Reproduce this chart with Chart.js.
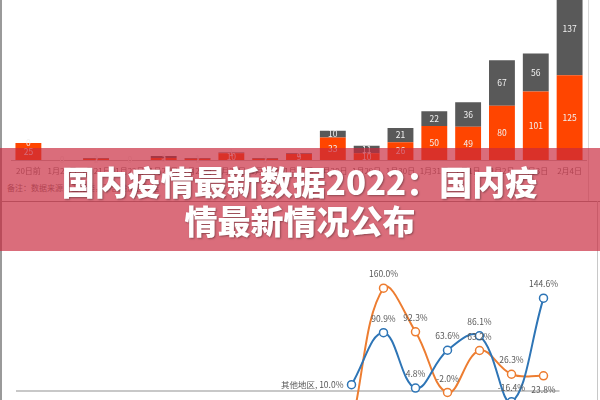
<!DOCTYPE html>
<html lang="zh">
<head>
<meta charset="UTF-8">
<title>国内疫情最新数据2022</title>
<script src="https://cdn.jsdelivr.net/npm/chart.js"></script>
<style>
    html, body {
        margin: 0;
        padding: 0;
        width: 600px;
        height: 400px;
        overflow: hidden;
        background: #fff;
        font-family: "Noto Sans CJK SC", sans-serif;
    }
    .box { position: absolute; }
    #barBox { left: 10px; top: -30px; width: 578px; height: 210px; }
    #lineBox { left: 10px; top: 257px; width: 555px; height: 204px; }
    .note {
        position: absolute;
        left: 7px;
        top: 182px;
        font-size: 8px;
        color: #7f7f7f;
        white-space: nowrap;
    }
    .rule { position: absolute; }
    .banner {
        position: absolute;
        left: 0;
        top: 148px;
        width: 600px;
        height: 103px;
        background: rgba(200, 40, 60, 0.68);
        z-index: 10;
    }
    .banner h1 {
        margin: 0;
        padding-top: 14px;
        text-align: center;
        color: #fff;
        font-size: 33px;
        line-height: 39px;
        font-weight: 900;
        text-shadow: 1px 1px 2px rgba(0, 0, 0, 0.35);
    }
</style>
</head>
<body>
    <div class="rule" style="left:0;top:0;width:2px;height:400px;background:#9a9a9a;"></div>
    <div class="rule" style="left:588px;top:0;width:1px;height:201px;background:#d9d9d9;"></div>
    <div class="rule" style="left:0;top:201px;width:600px;height:1px;background:#999;"></div>
    <div class="rule" style="left:597px;top:201px;width:1px;height:199px;background:#c8c8c8;"></div>

    <div class="box" id="barBox"><canvas id="barChart"></canvas></div>
    <div class="note">备注：数据来源：卫健委，不含港澳台数据</div>
    <div class="box" id="lineBox"><canvas id="lineChart"></canvas></div>

    <div class="banner">
        <h1>国内疫情最新数据2022：国内疫<br>情最新情况公布</h1>
    </div>

<script>
    // categories shared by both charts
    const days = ['20日前', '1月20日', '1月21日', '1月22日', '1月23日', '1月24日', '1月25日', '1月26日',
        '1月27日', '1月28日', '1月29日', '1月30日', '1月31日', '2月1日', '2月2日', '2月3日', '2月4日'];

    // stacked bars (top)
    const hubeiNew = [25, 0, 2, 0, 3, 2, 10, 2, 9, 33, 10, 26, 50, 49, 80, 101, 125];
    const otherNew = [0, 0, 1, 0, 3, 1, 1, 1, 1, 10, 11, 21, 22, 36, 67, 56, 137];

    // growth rates (bottom), %
    const otherRate = [null, null, null, null, null, null, null, null, null, null, 10.0, 90.9, 4.8, 63.6, 86.1, -16.4, 144.6];
    const hubeiRate = [null, null, null, null, null, null, null, null, null, null, -55.0, 160.0, 92.3, -2.0, 63.2, 26.3, 23.8];

    const FONT = '"Noto Sans CJK SC", sans-serif';

    const barLabels = {
        id: 'barLabels',
        afterDatasetsDraw(chart) {
            const ctx = chart.ctx;
            ctx.save();
            ctx.font = '8.5px ' + FONT;
            ctx.fillStyle = '#f2f2f2';
            ctx.textAlign = 'center';
            ctx.textBaseline = 'middle';
            chart.data.datasets.forEach((ds, i) => {
                chart.getDatasetMeta(i).data.forEach((bar, j) => {
                    const v = ds.data[j];
                    if (v == null) return;
                    ctx.fillText(v, bar.x, (bar.y + bar.base) / 2);
                });
            });
            ctx.restore();
        }
    };

    new Chart(document.getElementById('barChart'), {
        type: 'bar',
        data: {
            labels: days,
            datasets: [
                { label: '湖北', data: hubeiNew, backgroundColor: '#ff4500' },
                { label: '其他地区', data: otherNew, backgroundColor: '#595959' }
            ]
        },
        options: {
            responsive: true,
            maintainAspectRatio: false,
            animation: false,
            layout: { padding: 0 },
            datasets: { bar: { barPercentage: 0.765, categoryPercentage: 1 } },
            plugins: { legend: { display: false }, tooltip: { enabled: false } },
            scales: {
                x: {
                    stacked: true,
                    grid: { display: false, drawTicks: false },
                    border: { display: true, color: '#bfbfbf' },
                    ticks: { color: '#7f7f7f', font: { size: 8, family: FONT }, padding: 6, maxRotation: 0, autoSkip: false },
                    afterFit: s => { s.height = 20; }
                },
                y: { stacked: true, display: false, min: 0, max: 280 }
            }
        },
        plugins: [barLabels]
    });

    // which point labels sit under the point, per dataset
    const labelsBelow = { 1: [16] };
    const seriesNames = ['其他地区', '湖北'];

    const lineLabels = {
        id: 'lineLabels',
        afterDatasetsDraw(chart) {
            const ctx = chart.ctx;
            ctx.save();
            ctx.font = '8.5px ' + FONT;
            ctx.fillStyle = '#595959';
            ctx.textBaseline = 'middle';
            chart.data.datasets.forEach((ds, i) => {
                const first = ds.data.findIndex(v => v != null);
                chart.getDatasetMeta(i).data.forEach((pt, j) => {
                    const v = ds.data[j];
                    if (v == null) return;
                    const txt = v.toFixed(1) + '%';
                    if (j === first) {
                        ctx.textAlign = 'right';
                        ctx.fillText(seriesNames[i] + ', ' + txt, pt.x - 8, pt.y);
                    } else {
                        ctx.textAlign = 'center';
                        const below = (labelsBelow[i] || []).includes(j);
                        ctx.fillText(txt, pt.x, pt.y + (below ? 14 : -14));
                    }
                });
            });
            ctx.restore();
        }
    };

    new Chart(document.getElementById('lineChart'), {
        type: 'line',
        data: {
            labels: days,
            datasets: [
                {
                    label: '其他地区', data: otherRate, borderColor: '#2e75b6', backgroundColor: '#fff',
                    borderWidth: 2, tension: 0.4, pointRadius: 4, pointBorderWidth: 1.5
                },
                {
                    label: '湖北', data: hubeiRate, borderColor: '#ed7d31', backgroundColor: '#fff',
                    borderWidth: 2, tension: 0.4, pointRadius: 4, pointBorderWidth: 1.5
                }
            ]
        },
        options: {
            responsive: true,
            maintainAspectRatio: false,
            animation: false,
            layout: { padding: 0 },
            plugins: { legend: { display: false }, tooltip: { enabled: false } },
            scales: {
                x: { display: false, offset: true },
                y: {
                    min: -100,
                    max: 200,
                    ticks: { display: false, stepSize: 50 },
                    border: { display: false },
                    grid: {
                        drawTicks: false,
                        lineWidth: 2,
                        color: c => c.tick.value === 0 ? '#c8c8c8' : 'rgba(0,0,0,0)'
                    },
                    afterFit: s => { s.width = 0; }
                }
            }
        },
        plugins: [lineLabels]
    });
</script>
</body>
</html>
